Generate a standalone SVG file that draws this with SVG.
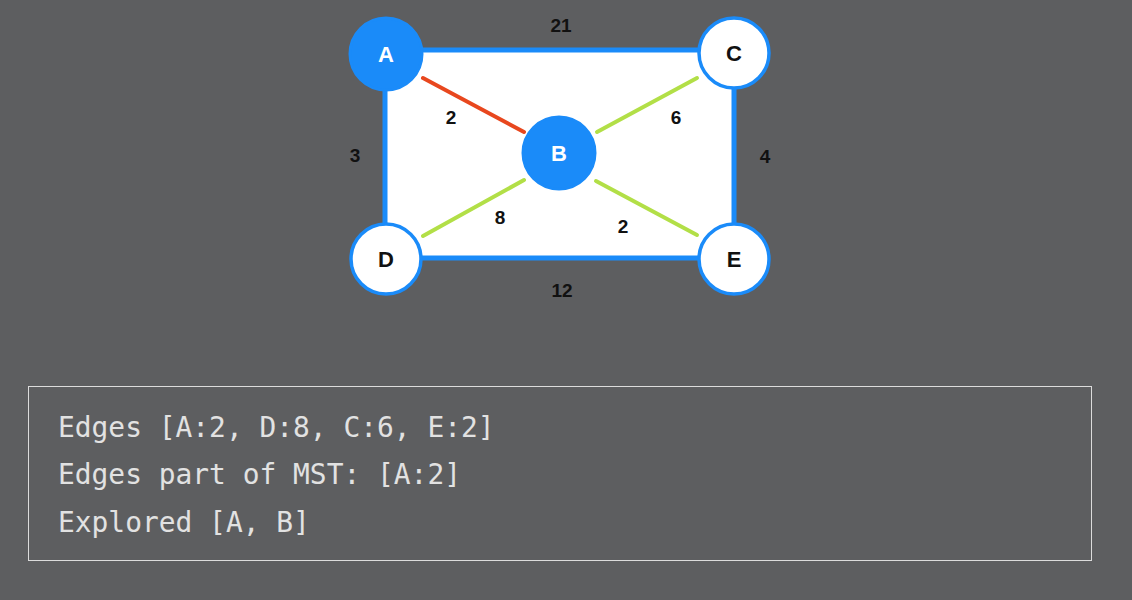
<svg xmlns="http://www.w3.org/2000/svg" width="1132" height="600" viewBox="0 0 1132 600">
<style>
.nodeF{fill:#1a8bf9;stroke:#1a8bf9;stroke-width:3}
.nodeW{fill:#ffffff;stroke:#1a8bf9;stroke-width:3.5}
.nl{font-family:"Liberation Sans",Arial,sans-serif;font-weight:bold;font-size:22px;text-anchor:middle}
.el{font-family:"Liberation Sans",Arial,sans-serif;font-weight:bold;font-size:19px;text-anchor:middle;fill:#111}
.mono{font-family:"DejaVu Sans Mono",monospace;font-size:27.9px;fill:#e2e2e2}
</style>
<rect width="1132" height="600" fill="#5d5e60"/>
<g id="connectors">
<path d="M385,50 L734,50 L734,258 L385,258 Z" fill="#ffffff" stroke="#1a8bf9" stroke-width="5" stroke-linejoin="round"/>
<line x1="423" y1="78" x2="524" y2="132" stroke="#e8471e" stroke-width="4" stroke-linecap="round"/>
<line x1="597" y1="132" x2="697" y2="78" stroke="#b2df47" stroke-width="4" stroke-linecap="round"/>
<line x1="524" y1="180" x2="423" y2="236" stroke="#b2df47" stroke-width="4" stroke-linecap="round"/>
<line x1="596" y1="181" x2="697" y2="235" stroke="#b2df47" stroke-width="4" stroke-linecap="round"/>
<text class="el" x="561" y="32">21</text>
<text class="el" x="355" y="162">3</text>
<text class="el" x="765" y="163">4</text>
<text class="el" x="562" y="297">12</text>
<text class="el" x="451" y="124">2</text>
<text class="el" x="676" y="124">6</text>
<text class="el" x="500" y="224">8</text>
<text class="el" x="623" y="233">2</text>
</g>
<g id="node-A"><circle class="nodeF" cx="386" cy="54" r="36"/><text class="nl" x="386" y="62" fill="#ffffff">A</text></g>
<g id="node-C"><circle class="nodeW" cx="734" cy="53" r="35"/><text class="nl" x="734" y="61" fill="#111">C</text></g>
<g id="node-B"><circle class="nodeF" cx="559" cy="153" r="36"/><text class="nl" x="559" y="161" fill="#ffffff">B</text></g>
<g id="node-D"><circle class="nodeW" cx="386" cy="259" r="35"/><text class="nl" x="386" y="267" fill="#111">D</text></g>
<g id="node-E"><circle class="nodeW" cx="734" cy="259" r="35"/><text class="nl" x="734" y="267" fill="#111">E</text></g>
<g id="info">
<rect x="28.5" y="386.5" width="1063" height="174" fill="none" stroke="#dcdcdc" stroke-width="1"/>
<text class="mono" x="58" y="437">Edges [A:2, D:8, C:6, E:2]</text>
<text class="mono" x="58" y="484">Edges part of MST: [A:2]</text>
<text class="mono" x="58" y="532">Explored [A, B]</text>
</g>
</svg>
